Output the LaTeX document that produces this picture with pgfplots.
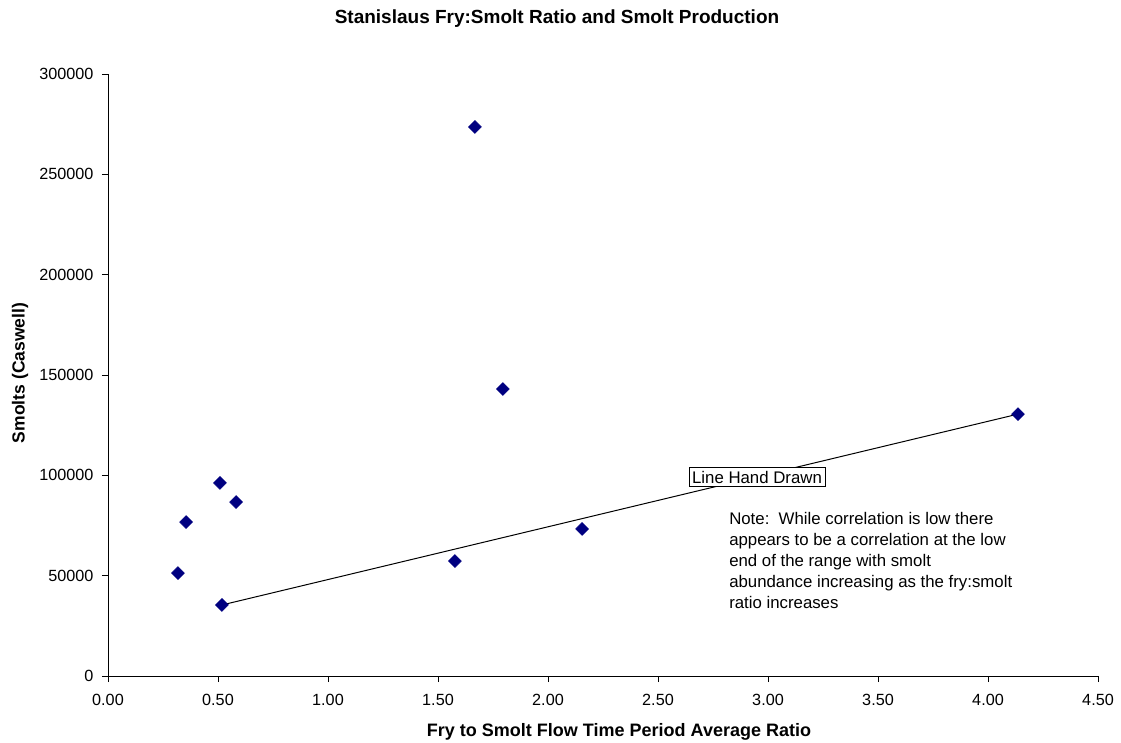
\documentclass[border=0pt]{standalone}
\usepackage{pgfplots}
\pgfplotsset{compat=1.18}
\usepackage{fontspec}
\setmainfont{Liberation Sans}
\definecolor{navy}{RGB}{0,0,128}
\begin{document}
\begin{tikzpicture}[x=1pt,y=1pt]
\path[use as bounding box] (0,0) rectangle (1121,742);
\begin{axis}[
  at={(108pt,66pt)}, anchor=south west,
  scale only axis, width=990pt, height=602pt,
  xmin=0, xmax=4.5, ymin=0, ymax=300000,
  axis x line*=bottom, axis y line*=left,
  axis line style={black, line width=0.8pt, -},
  xtick={0,0.5,...,4.5}, ytick={0,50000,...,300000},
  tick align=outside, major tick length=6pt,
  tick style={black, line width=0.8pt},
  scaled y ticks=false,
  xticklabel style={yshift=-9pt, /pgf/number format/.cd, fixed, fixed zerofill, precision=2},
  yticklabel style={xshift=-5pt, /pgf/number format/.cd, fixed, 1000 sep={}},
  /pgf/number format/assume math mode=true,
  ticklabel style={font=\fontsize{16.2}{19}\selectfont},
  clip=false,
]
\addplot[black, line width=1pt, no marks] coordinates {(0.518,35400) (4.136,130500)};
\addplot[only marks, mark=square*, mark size=4.6pt, mark options={fill=navy, draw=navy, rotate=45}] coordinates {
(0.518,35400)
(0.318,51300)
(0.355,76700)
(0.509,96200)
(0.582,86700)
(1.577,57300)
(1.668,273600)
(1.795,143000)
(2.155,73300)
(4.136,130500)
};
\node[draw=black, fill=white, inner sep=3pt, line width=0.8pt, font=\fontsize{16.8}{21}\selectfont] at (axis cs:2.95,99170) {Line Hand Drawn};
\node[anchor=north west, align=left, inner sep=0pt, font=\fontsize{16.8}{21}\selectfont] at (axis cs:2.823,81800) {Note:\ \ While correlation is low there\\appears to be a correlation at the low\\end of the range with smolt\\abundance increasing as the fry:smolt\\ratio increases};
\end{axis}
\node[font=\fontsize{19}{22}\selectfont\bfseries] at (557,723) {Stanislaus Fry:Smolt Ratio and Smolt Production};
\node[font=\fontsize{18}{21}\selectfont\bfseries] at (619,10) {Fry to Smolt Flow Time Period Average Ratio};
\node[font=\fontsize{17.5}{21}\selectfont\bfseries, rotate=90] at (20,369) {Smolts (Caswell)};
\end{tikzpicture}
\end{document}
